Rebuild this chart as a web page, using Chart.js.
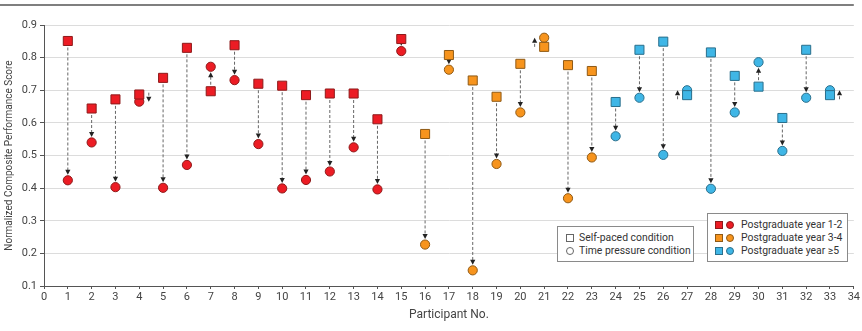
<!DOCTYPE html>
<html lang="en">
<head>
  <meta charset="UTF-8" />
  <title>Normalized Composite Performance Score by Participant</title>
  <script src="https://cdn.jsdelivr.net/npm/chart.js"></script>
  <style>
    body {
      margin: 0;
      background: #fff;
      font-family: Roboto, Arial, sans-serif;
    }
    #wrap {
      position: relative;
      width: 862px;
      height: 331px;
    }
    .legend {
      position: absolute;
      background: #fff;
      border: 1px solid #8a8a8a;
      box-sizing: border-box;
      font-size: 10.4px;
      color: #333;
      padding-top: 4px;
    }
    .legend .row {
      position: relative;
      height: 13px;
      line-height: 13px;
      white-space: nowrap;
    }
    .legend .mk {
      position: absolute;
      top: 2.5px;
      width: 8px;
      height: 8px;
      box-sizing: border-box;
      border: 1px solid #666;
    }
    .legend .circ { border-radius: 50%; }
    .legend .txt { position: absolute; }
  </style>
</head>
<body>
<div id="wrap">
  <canvas id="chart"></canvas>

  <div class="legend" style="left:557px; top:226px; width:137px; height:36px;">
    <div class="row"><span class="mk" style="left:8px;"></span><span class="txt" style="left:21px;">Self-paced condition</span></div>
    <div class="row"><span class="mk circ" style="left:8px;"></span><span class="txt" style="left:21px;">Time pressure condition</span></div>
  </div>

  <div class="legend" style="left:707px; top:213px; width:141px; height:49px;">
    <div class="row"><span class="mk" style="left:7px; background:#ec1c24; border-color:#8e1a1a;"></span><span class="mk circ" style="left:18px; background:#ec1c24; border-color:#8e1a1a;"></span><span class="txt" style="left:33px;">Postgraduate year 1-2</span></div>
    <div class="row"><span class="mk" style="left:7px; background:#f7941d; border-color:#8f5a16;"></span><span class="mk circ" style="left:18px; background:#f7941d; border-color:#8f5a16;"></span><span class="txt" style="left:33px;">Postgraduate year 3-4</span></div>
    <div class="row"><span class="mk" style="left:7px; background:#3fb6e6; border-color:#2a6f8c;"></span><span class="mk circ" style="left:18px; background:#3fb6e6; border-color:#2a6f8c;"></span><span class="txt" style="left:33px;">Postgraduate year ≥5</span></div>
  </div>
</div>

<script>
  // Scores per participant under each condition
  const participants = [1, 2, 3, 4, 5, 6, 7, 8, 9, 10, 11, 12, 13, 14, 15, 16, 17, 18, 19, 20, 21, 22, 23, 24, 25, 26, 27, 28, 29, 30, 31, 32, 33];
  const selfPaced    = [0.851, 0.644, 0.672, 0.687, 0.738, 0.830, 0.697, 0.838, 0.720, 0.714, 0.685, 0.690, 0.690, 0.611, 0.857,
                        0.566, 0.808, 0.730, 0.680, 0.781, 0.833, 0.777, 0.759,
                        0.664, 0.824, 0.849, 0.685, 0.816, 0.744, 0.711, 0.615, 0.824, 0.685];
  const timePressure = [0.424, 0.540, 0.403, 0.665, 0.401, 0.471, 0.772, 0.731, 0.535, 0.399, 0.425, 0.451, 0.525, 0.396, 0.820,
                        0.227, 0.763, 0.148, 0.474, 0.632, 0.861, 0.369, 0.494,
                        0.559, 0.677, 0.502, 0.700, 0.398, 0.632, 0.786, 0.514, 0.677, 0.700];
  const yearGroup    = ['1-2', '1-2', '1-2', '1-2', '1-2', '1-2', '1-2', '1-2', '1-2', '1-2', '1-2', '1-2', '1-2', '1-2', '1-2',
                        '3-4', '3-4', '3-4', '3-4', '3-4', '3-4', '3-4', '3-4',
                        '≥5', '≥5', '≥5', '≥5', '≥5', '≥5', '≥5', '≥5', '≥5', '≥5'];
  const groups = ['1-2', '3-4', '≥5'];
  const yTicks = [0.1, 0.2, 0.3, 0.4, 0.5, 0.6, 0.7, 0.8, 0.9];

  const fills   = { '1-2': '#ec1c24', '3-4': '#f7941d', '≥5': '#3fb6e6' };
  const borders = { '1-2': '#8e1a1a', '3-4': '#8f5a16', '≥5': '#2a6f8c' };

  // where the two markers overlap, the arrow sits beside them (x offset in participant units)
  const sideArrows = { 4: 0.4, 21: -0.4, 27: -0.4, 33: 0.4 };

  function pointsFor(values, g) {
    return participants
      .map((p, i) => ({ x: p, y: values[i], g: yearGroup[i] }))
      .filter(d => d.g === g);
  }

  const datasets = [];
  groups.forEach(g => {
    datasets.push({
      label: 'Self-paced ' + g,
      data: pointsFor(selfPaced, g),
      pointStyle: 'rect',
      pointRadius: 6.4,
      backgroundColor: fills[g],
      borderColor: borders[g],
      borderWidth: 1,
      showLine: false
    });
    datasets.push({
      label: 'Time pressure ' + g,
      data: pointsFor(timePressure, g),
      pointStyle: 'circle',
      pointRadius: 4.6,
      backgroundColor: fills[g],
      borderColor: borders[g],
      borderWidth: 1,
      showLine: false
    });
  });

  function arrowHead(ctx, x, tipY, dir) {
    ctx.beginPath();
    ctx.moveTo(x, tipY);
    ctx.lineTo(x - 2.6, tipY - dir * 5);
    ctx.lineTo(x + 2.6, tipY - dir * 5);
    ctx.closePath();
    ctx.fill();
  }

  const arrowPlugin = {
    id: 'changeArrows',
    beforeDraw(chart) {
      const ctx = chart.ctx;
      ctx.save();
      ctx.strokeStyle = '#555';
      ctx.lineWidth = 1.4;
      ctx.beginPath();
      ctx.moveTo(0, 5);
      ctx.lineTo(chart.chartArea.right, 5);
      ctx.stroke();
      ctx.restore();
    },
    beforeDatasetsDraw(chart) {
      const ctx = chart.ctx;
      const xs = chart.scales.x, ys = chart.scales.y;
      ctx.save();
      ctx.strokeStyle = '#666';
      ctx.fillStyle = '#222';
      ctx.lineWidth = 1;
      participants.forEach((p, i) => {
        const yS = ys.getPixelForValue(selfPaced[i]);
        const yC = ys.getPixelForValue(timePressure[i]);
        const dir = yC > yS ? 1 : -1;
        let x, tail, tip;
        if (sideArrows[p] !== undefined) {
          x = xs.getPixelForValue(p + sideArrows[p]);
          tip = yC;
          tail = tip - dir * Math.max(Math.abs(yC - yS), 9);
        } else {
          x = xs.getPixelForValue(p);
          tail = yS + dir * 6.5;
          tip = yC - dir * 5.5;
        }
        ctx.setLineDash([3, 2]);
        ctx.beginPath();
        ctx.moveTo(x, tail);
        ctx.lineTo(x, tip - dir * 4.5);
        ctx.stroke();
        ctx.setLineDash([]);
        arrowHead(ctx, x, tip, dir);
      });
      ctx.restore();
    }
  };

  new Chart(document.getElementById('chart'), {
    type: 'scatter',
    data: { datasets },
    plugins: [arrowPlugin],
    options: {
      responsive: true,
      maintainAspectRatio: false,
      animation: false,
      layout: { padding: { left: 0, right: 6, top: 25, bottom: 0 } },
      plugins: {
        legend: { display: false },
        tooltip: { enabled: false }
      },
      scales: {
        x: {
          type: 'linear',
          min: 0,
          max: 34,
          afterFit(scale) { scale.height = 45; },
          ticks: {
            stepSize: 1,
            padding: 2,
            color: '#444',
            font: { family: 'Roboto', size: 11 }
          },
          grid: {
            drawOnChartArea: false,
            drawTicks: true,
            tickLength: 3,
            tickColor: '#555'
          },
          border: { color: '#555', width: 1 },
          title: {
            display: true,
            text: 'Participant No.',
            color: '#444',
            font: { family: 'Roboto', size: 12 },
            padding: { top: 0, bottom: 9 }
          }
        },
        y: {
          type: 'linear',
          min: yTicks[0],
          max: yTicks[yTicks.length - 1],
          afterFit(scale) { scale.width = 44; },
          afterBuildTicks(scale) { scale.ticks = yTicks.map(v => ({ value: v })); },
          ticks: {
            padding: 3,
            color: '#444',
            font: { family: 'Roboto', size: 11 },
            callback: v => v.toFixed(1)
          },
          grid: {
            color: '#dcdcdc',
            lineWidth: 1,
            drawTicks: true,
            tickLength: 4,
            tickColor: '#555'
          },
          border: { color: '#555', width: 1 },
          title: {
            display: true,
            text: 'Normalized Composite Performance Score',
            color: '#444',
            font: { family: 'Roboto', size: 10 },
            padding: { top: 3, bottom: 0 }
          }
        }
      }
    }
  });
</script>
</body>
</html>
